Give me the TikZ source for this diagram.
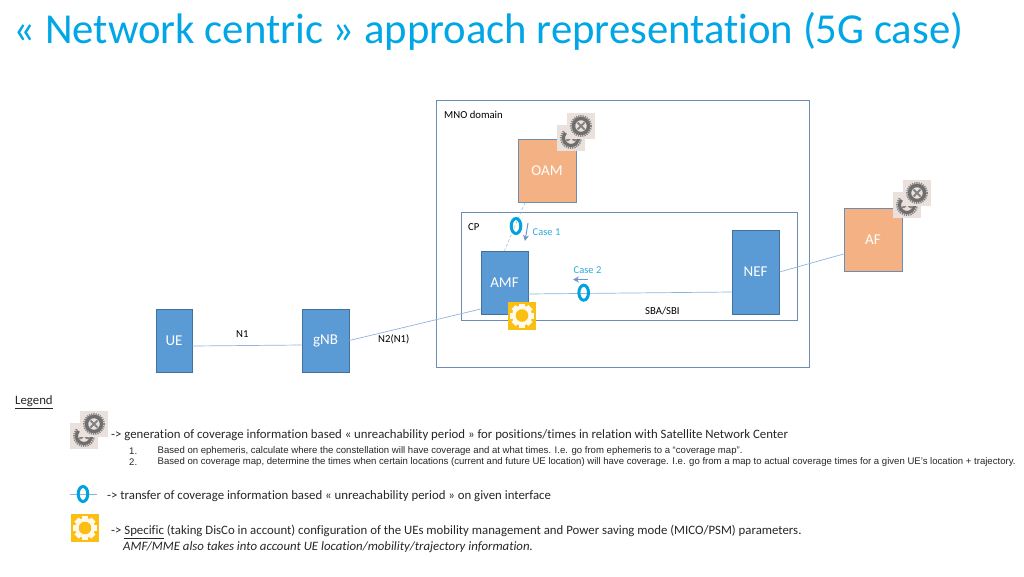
\documentclass[tikz,border=0pt]{standalone}
\usepackage{fontspec}
\setmainfont[Ligatures={TeX,NoCommon}]{Carlito}
\newfontfamily\arialf{Liberation Sans}
\usetikzlibrary{arrows.meta}
\definecolor{titleblue}{HTML}{00A6E6}
\definecolor{boxblue}{HTML}{5B9BD5}
\definecolor{boxedge}{HTML}{41719C}
\definecolor{orangebox}{HTML}{F4B183}
\definecolor{frameblue}{HTML}{6C8EB4}
\definecolor{linkblue}{HTML}{8FB4DC}
\definecolor{ringblue}{HTML}{00A3DF}
\definecolor{sunyellow}{HTML}{FBBF14}
\definecolor{gearbg}{HTML}{EAE0DC}
\definecolor{geargray}{HTML}{6E6E6E}
\definecolor{casecol}{HTML}{2DA9DC}
\definecolor{arrowblue}{HTML}{6F94C8}
\tikzset{
  x=1pt,y=-1pt,
  bluebox/.style={draw=boxedge,line width=.7pt,fill=boxblue,text=white,inner sep=0pt,font=\fontsize{15}{17}\selectfont},
  orbox/.style={draw=frameblue,line width=.9pt,fill=orangebox,text=white,inner sep=0pt,font=\fontsize{15}{17}\selectfont},
  frame/.style={draw=frameblue,line width=1pt,fill=none,inner sep=0pt},
  lbl/.style={inner sep=0pt,anchor=west,text=black,font=\fontsize{10.7}{12}\selectfont},
  leg/.style={inner sep=0pt,anchor=west,text=black!85,font=\fontsize{12.8}{15}\selectfont},
  smalltxt/.style={inner sep=0pt,anchor=west,text=black!85,font=\arialf\fontsize{9.58}{11}\selectfont},
  caselbl/.style={inner sep=0pt,anchor=west,text=casecol,font=\fontsize{10.5}{12}\selectfont},
  link/.style={draw=linkblue,line width=.7pt},
  flow/.style={draw=arrowblue,line width=1pt,-{Stealth[length=6pt,width=6pt]}},
  ring/.style={draw=ringblue,line width=3pt,fill=none},
  onegear/.pic={
    \fill[gearbg] (-14,-13) rectangle (14,13);
    \draw[geargray!85,line width=2pt,dash pattern=on 1.2pt off 1pt] (0,0) circle[radius=10];
    \draw[geargray,line width=3.4pt,fill=gearbg] (0,0) circle[radius=7.5];
    \draw[geargray!85,line width=1.8pt] (-3.5,-3.5) -- (3.5,3.5) (-3.5,3.5) -- (3.5,-3.5);
  },
  halfgear/.pic={
    \fill[gearbg] (-14,-13) rectangle (14,13);
    \draw[geargray,line width=3.2pt] (-5.5,-5.1) arc[start angle=-137,end angle=-385,radius=7.5];
    \draw[geargray!85,line width=2pt,dash pattern=on 1.2pt off 1pt] (-7.3,-6.8) arc[start angle=-137,end angle=-385,radius=10];
    \fill[geargray!85] (-5.5,3) -- (-2,-2.5) -- (2.5,-2.5) -- (5.5,3) -- (2.5,3) -- (0,0.5) -- (-2.5,3) -- cycle;
  },
  gearpair/.pic={
    \pic at (-10,12) {halfgear};
    \pic at (0,0) {onegear};
  },
  sunicon/.pic={
    \fill[sunyellow] (-14,-14) rectangle (14,14);
    \foreach \a in {0,45,...,315}{
      \fill[white!92!sunyellow,rotate=\a] (-3,-12) rectangle (3,-7);
    }
    \fill[white!92!sunyellow] (0,0) circle[radius=10];
    \fill[sunyellow] (0,0) circle[radius=6.3];
  }
}
\begin{document}
\begin{tikzpicture}
\useasboundingbox (0,0) rectangle (1024,576);
% title
\node[inner sep=0pt,anchor=west,text=titleblue,font=\fontsize{42.7}{48}\selectfont] (title) at (13.5,31) {« Network centric » approach representation (5G case)};
% frames
\node[frame,minimum width=373pt,minimum height=267pt] (mno) at (622.5,233.5) {};
\node[frame,minimum width=336pt,minimum height=108pt] (cp) at (629,266) {};
\node[lbl] (mnolbl) at (444,115) {MNO domain};
\node[lbl] (cplbl) at (468,227) {CP};
% boxes
\node[orbox,minimum width=58pt,minimum height=63pt] (oam) at (547,170.5) {OAM};
\node[orbox,minimum width=58pt,minimum height=63pt] (af) at (873,239.5) {AF};
\node[bluebox,minimum width=47pt,minimum height=63pt] (amf) at (504.5,282.5) {AMF};
\node[bluebox,minimum width=47pt,minimum height=84pt] (nef) at (755.5,272) {NEF};
\node[bluebox,minimum width=47pt,minimum height=63pt] (gnb) at (325.5,340.5) {gNB};
\node[bluebox,minimum width=36pt,minimum height=63pt] (ue) at (174,340.5) {UE};
% connectors
\draw[link] ([yshift=-5.5pt]ue.east) -- ([yshift=-4.5pt]gnb.west);
\draw[link] (gnb.east) -- ([yshift=-26.5pt]amf.west);
\draw[link] ([yshift=-11.5pt]amf.east) -- ([yshift=-20pt]nef.west);
\draw[link] (nef.east) -- ([yshift=-14.5pt]af.west);
\coordinate (oamout) at ([xshift=-22pt]oam.south);
\coordinate (amfin) at (amf.north);
\draw[link,densely dashed,line width=.5pt] (oamout) -- (amfin);
% flow arrows
\coordinate (c1a) at (528,223);
\coordinate (c1b) at (525,241);
\coordinate (c2a) at (588,279.5);
\coordinate (c2b) at (573,279.5);
\draw[flow] (c1a) -- (c1b);
\draw[flow] (c2a) -- (c2b);
% rings
\draw[ring] (516,226) ellipse[x radius=4.8,y radius=7.5];
\draw[ring] (583.7,292.7) ellipse[x radius=4.8,y radius=7.5];
% labels
\node[caselbl] (case1) at (532.5,232) {Case 1};
\node[caselbl] (case2) at (573.5,270) {Case 2};
\node[lbl] (sba) at (645,311) {SBA/SBI};
\node[lbl] (n1) at (236,334) {N1};
\node[lbl] (n2) at (378,339.5) {N2(N1)};
% icons
\pic at (581,126) {gearpair};
\pic at (917,193) {gearpair};
\pic at (522,315.5) {sunicon};
% legend
\node[inner sep=0pt,anchor=west,text=black!85,font=\fontsize{12.8}{15}\selectfont] (legend) at (15,402.5) {\underline{Legend}};
\pic at (94,424) {gearpair};
\node[leg] (l1) at (111,435) {-> generation of coverage information based « unreachability period » for positions/times in relation with Satellite Network Center};
\node[smalltxt] (n1a) at (129,451.5) {1.};
\node[smalltxt] (t1a) at (157.5,451.5) {Based on ephemeris, calculate where the constellation will have coverage and at what times. I.e. go from ephemeris to a “coverage map”.};
\node[smalltxt] (n2a) at (129,462.5) {2.};
\node[smalltxt] (t2a) at (157.5,462.5) {Based on coverage map, determine the times when certain locations (current and future UE location) will have coverage. I.e. go from a map to actual coverage times for a given UE’s location + trajectory.};
\coordinate (la) at (70,494);
\coordinate (lb) at (97,494);
\draw[link] (la) -- (lb);
\draw[ring] (83,494) ellipse[x radius=4.8,y radius=7.5];
\node[leg] (l2) at (107,496) {-> transfer of coverage information based « unreachability period » on given interface};
\pic at (85,528) {sunicon};
\node[leg] (l3) at (111,532) {-> \underline{Specific} (taking DisCo in account) configuration of the UEs mobility management and Power saving mode (MICO/PSM) parameters.};
\node[leg] (l4) at (123,547) {\itshape AMF/MME also takes into account UE location/mobility/trajectory information.};
\end{tikzpicture}
\end{document}
